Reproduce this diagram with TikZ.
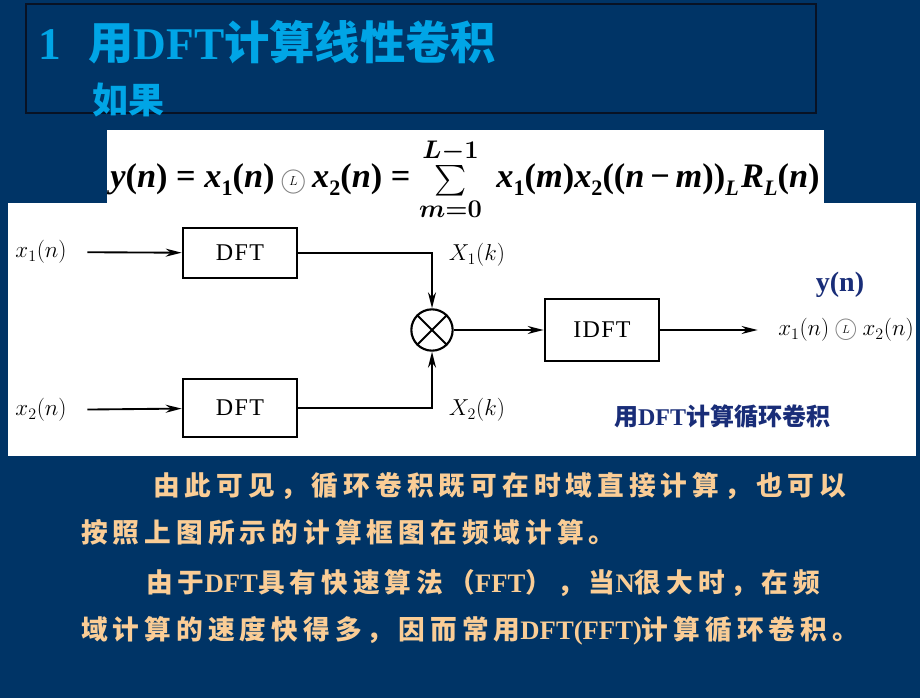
\documentclass[tikz,border=0pt]{standalone}
\usepackage{amsmath}
\usepackage{fontspec}
\usepackage{graphicx}
\usetikzlibrary{arrows.meta}
\setmainfont{Liberation Serif}
\newfontfamily\cjk{Noto Sans CJK SC}
\newfontfamily\cjkbody[LetterSpace=19]{Noto Sans CJK SC}
\newcommand{\lat}[1]{{\rmfamily\bfseries #1}}
\newcommand{\circL}[1][1]{\mbox{\scalebox{#1}{\unboldmath\ooalign{\textcolor{gray}{$\bigcirc$}\cr\hidewidth\raisebox{0.25ex}{\scalebox{0.5}{$L$}}\hidewidth\cr}}}}
\newcommand{\fv}[1]{{\itshape #1}}
\newcommand{\fs}[1]{\raisebox{-0.45ex}{\fontsize{18}{18}\selectfont #1}}
\newsavebox{\formulabox}

\definecolor{slidebg}{RGB}{0,52,102}
\definecolor{framedark}{RGB}{8,18,36}
\definecolor{titlecyan}{RGB}{0,165,230}
\definecolor{textorange}{RGB}{250,205,150}
\definecolor{navy}{RGB}{25,45,120}

\tikzset{
  block/.style={draw, line width=1.5pt, minimum width=86pt, font=\fontsize{18}{20}\selectfont},
  sig/.style={line width=1.4pt, -{Stealth[length=12pt,width=6pt]}},
  lab/.style={font=\fontsize{18}{20}\selectfont},
  body/.style={anchor=west, text=textorange, inner sep=0pt, font=\cjkbody\bfseries\fontsize{20}{24}\selectfont}
}

\begin{document}
\sbox{\formulabox}{\rmfamily\bfseries\fontsize{28}{34}\selectfont
  \fv{y}(\fv{n}) = \fv{x}\fs{1}(\fv{n})\,\raisebox{-0.02em}{\circL[0.85]}\,\fv{x}\fs{2}(\fv{n}) =
  {\fontsize{29}{32}\selectfont\boldmath$\sum\limits_{m=0}^{L-1}$}\ \,\fv{x}\fs{1}(\fv{m})\fv{x}\fs{2}((\fv{n}\,−\,\fv{m}))\fs{\itshape L}\kern2pt\fv{R}\fs{\itshape L}(\fv{n})}
\begin{tikzpicture}[x=0.75pt, y=-0.75pt]
\useasboundingbox (0,0) rectangle (920,698);
\fill[slidebg] (0,0) rectangle (920,698);

% title frame
\draw[framedark, line width=1.5pt] (26,4) rectangle (816,113);
\node[anchor=base west, text=titlecyan, inner sep=0pt, font=\fontsize{34}{36}\selectfont] (num) at (38,60) {\lat{1}};
\node[anchor=base west, text=titlecyan, inner sep=0pt, font=\cjk\bfseries\fontsize{34}{36}\selectfont] (title) at (88,60) {用\lat{DFT}计算线性卷积};
\node[anchor=base west, text=titlecyan, inner sep=0pt, font=\cjk\bfseries\fontsize{27}{30}\selectfont] (given) at (92,114) {如果};

% white panels
\fill[white] (8,203) rectangle (916,456);
\fill[white] (107,130) rectangle (824,203);

% formula
\node[inner sep=0pt, anchor=base] (formula) at (465,188) {\resizebox{532pt}{!}{\usebox{\formulabox}}};

% block diagram
\node[lab] (x1) at (41,252) {$x_1(n)$};
\node[lab] (x2) at (41,410) {$x_2(n)$};
\node[block, minimum height=38pt] (dft1) at (240,253) {D\kern1pt F\kern1pt T};
\node[block, minimum height=44pt] (dft2) at (240,408) {D\kern1pt F\kern1pt T};
\node[draw, circle, line width=1.6pt, minimum size=31pt, inner sep=0pt] (mult) at (432,330) {};
\draw[line width=1.5pt] (mult.north west) -- (mult.south east);
\draw[line width=1.5pt] (mult.north east) -- (mult.south west);
\node[block, minimum height=46pt] (idft) at (602,330) {I\kern1pt D\kern1pt F\kern1pt T};
\node[lab] (X1) at (477,255) {$X_1(k)$};
\node[lab] (X2) at (477,410) {$X_2(k)$};
\node[lab, font=\fontsize{17}{20}\selectfont] (yout) at (846,330) {$x_1(n)\mathbin{\circL}x_2(n)$};
\node[text=navy, font=\fontsize{21}{24}\selectfont] (yn) at (840,285) {\lat{y(n)}};
\node[text=navy, font=\cjk\bfseries\fontsize{18}{20}\selectfont] (caption) at (722,416) {用\lat{DFT}计算循环卷积};

\draw[sig, shorten <=12pt] (x1) -- (dft1);
\draw[sig, shorten <=12pt] (x2) -- (dft2);
\draw[sig] (dft1) -| (mult);
\draw[sig] (dft2) -| (mult);
\draw[sig] (mult) -- (idft);
\draw[sig, shorten >=12pt] (idft) -- (yout);

% text
\node[body] (p1) at (153,486) {由此可见，循环卷积既可在时域直接计算，也可以};
\node[body] (p2) at (81,532) {按照上图所示的计算框图在频域计算。};
\node[body] (p3) at (146,583) {由于\lat{DFT}具有快速算法（\lat{FFT}），当\lat{N}很大时，在频};
\node[body] (p4) at (81,631) {域计算的速度快得多，因而常用\lat{DFT(FFT)}计算循环卷积。};
\end{tikzpicture}
\end{document}
